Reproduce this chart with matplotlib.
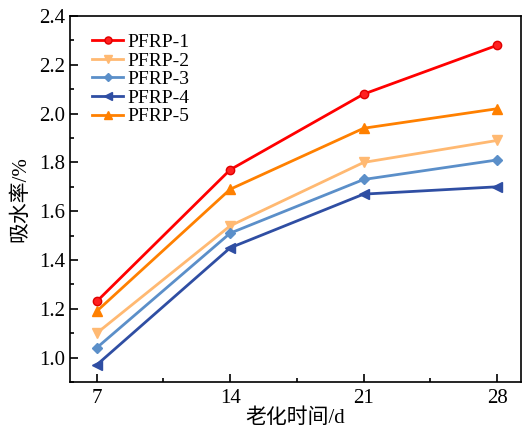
import matplotlib
matplotlib.use('Agg')
import matplotlib.pyplot as plt
from matplotlib.ticker import MultipleLocator

plt.rcParams['font.family'] = ['Liberation Serif', 'Noto Sans CJK SC']
plt.rcParams['mathtext.fontset'] = 'stix'

# 数据
days = [7, 14, 21, 28]
pfrp1 = [1.23, 1.77, 2.08, 2.28]
pfrp2 = [1.10, 1.54, 1.80, 1.89]
pfrp3 = [1.04, 1.51, 1.73, 1.81]
pfrp4 = [0.97, 1.45, 1.67, 1.70]
pfrp5 = [1.19, 1.69, 1.94, 2.02]

fig = plt.figure(figsize=(5.22, 4.38), dpi=100)
ax = fig.add_axes([70/522, 1-382/438, 451/522, 366/438])

ax.plot(days, pfrp1, color='#ff0000', marker='o', ms=6, lw=2, label='PFRP-1',
        markerfacecolor='#ff2020', markeredgecolor='#e00000')
ax.plot(days, pfrp2, color='#ffb972', marker='v', ms=7, lw=2, label='PFRP-2')
ax.plot(days, pfrp3, color='#5b8fc9', marker='D', ms=5, lw=2, label='PFRP-3')
ax.plot(days, pfrp4, color='#2f4ea3', marker='<', ms=7, lw=2, label='PFRP-4')
ax.plot(days, pfrp5, color='#ff8000', marker='^', ms=7, lw=2, label='PFRP-5')

ax.set_xlim(5.6, 29.25)
ax.set_ylim(0.9, 2.4)
ax.set_xticks(days)
ax.xaxis.set_minor_locator(MultipleLocator(3.5))
ax.yaxis.set_major_locator(MultipleLocator(0.2))
ax.yaxis.set_minor_locator(MultipleLocator(0.1))
ax.yaxis.set_major_formatter(plt.FormatStrFormatter('%.1f'))
ax.tick_params(which='both', direction='in', labelsize=15, width=1.2)
ax.tick_params(which='major', length=6)
ax.tick_params(which='minor', length=3)
ax.tick_params(axis='x', pad=5)
for s in ax.spines.values():
    s.set_linewidth(1.2)

ax.set_xlabel('老化时间/d', fontsize=15, labelpad=0)
ax.set_ylabel('吸水率/%', fontsize=15, labelpad=6)

ax.legend(loc='upper left', frameon=False, fontsize=14, handlelength=1.6,
          handletextpad=0.2, labelspacing=0.05, borderaxespad=0.5,
          markerscale=0.85, bbox_to_anchor=(0.01, 1.0))

fig.savefig('out.png', dpi=100)
